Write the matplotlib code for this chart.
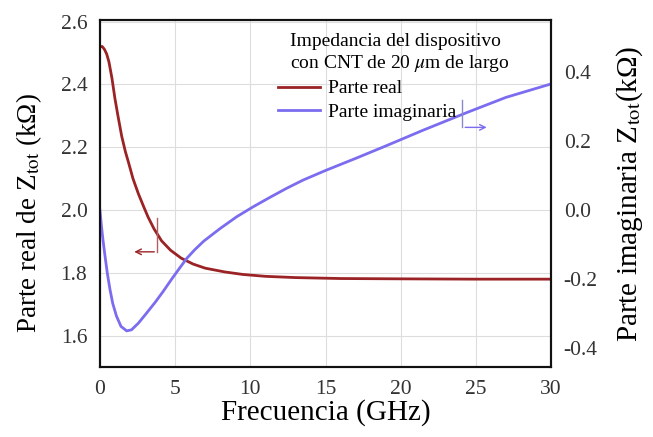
import matplotlib
matplotlib.use("Agg")
import matplotlib.pyplot as plt
import numpy as np

plt.rcParams['font.family'] = ['Liberation Serif', 'DejaVu Serif']
plt.rcParams['mathtext.fontset'] = 'stix'

freq_real = [0, 0.15, 0.3, 0.45, 0.6, 0.8, 1.0, 1.2, 1.45, 1.7, 1.9, 2.2, 2.55, 2.9, 3.2, 3.6, 4.1, 4.7,
             5.4, 6.2, 7.0, 8.3, 9.5, 11.0, 13.0, 16.0, 20.0, 25.0, 30.0]
z_real = [2.52, 2.521, 2.512, 2.497, 2.472, 2.42, 2.355, 2.30, 2.235, 2.185, 2.152, 2.10, 2.053, 2.012, 1.978,
          1.94, 1.902, 1.872, 1.847, 1.828, 1.815, 1.803, 1.795, 1.789, 1.785, 1.782, 1.781, 1.78, 1.78]

freq_imag = [0, 0.1, 0.2, 0.33, 0.5, 0.67, 0.85, 1.1, 1.4, 1.78, 2.1, 2.55, 3.0, 3.66, 4.2, 4.77, 5.3,
             5.77, 6.3, 6.9, 8.0, 9.1, 10.2, 11.3, 12.4, 13.5, 15.0, 17.0, 19.0, 21.5, 24.4, 27.0, 30.0]
z_imag = [0.0, -0.045, -0.085, -0.13, -0.185, -0.23, -0.27, -0.307, -0.337, -0.35, -0.347, -0.328, -0.304,
          -0.268, -0.236, -0.2, -0.168, -0.14, -0.115, -0.09, -0.053, -0.019, 0.01, 0.037, 0.063, 0.087,
          0.115, 0.15, 0.186, 0.232, 0.283, 0.327, 0.366]

xticks = [0, 5, 10, 15, 20, 25, 30]
yticks_left = [1.6, 1.8, 2.0, 2.2, 2.4, 2.6]
yticks_right = [-0.4, -0.2, 0.0, 0.2, 0.4]

red = '#9b2325'
blue = '#7b6cf0'

fig = plt.figure(figsize=(6.53, 4.37), dpi=100)
ax = fig.add_axes([0.153, 0.160, 0.691, 0.794])
ax2 = ax.twinx()

l1, = ax.plot(freq_real, z_real, color=red, lw=2, label='Parte real')
l2, = ax2.plot(freq_imag, z_imag, color=blue, lw=2, label='Parte imaginaria')

ax.set_xlim(0, 30)
ax.set_ylim(1.5, 2.605)
ax2.set_ylim(-0.455, 0.551)
ax.set_xticks(xticks)
ax.set_yticks(yticks_left)
ax.set_yticklabels([f'{v:.1f}' for v in yticks_left])
ax2.set_yticks(yticks_right)
ax2.set_yticklabels([f'{v:.1f}' for v in yticks_right])
ax.grid(True, color='#dddddd', lw=0.8)
ax.set_axisbelow(True)

for a in (ax, ax2):
    a.tick_params(length=0, labelsize=15.5, colors='#333333', pad=9)
    for s in a.spines.values():
        s.set_linewidth(1.5)
        s.set_color('#111111')

ax.set_xlabel('Frecuencia (GHz)', fontsize=21, labelpad=0)
ax.set_ylabel('Parte real de Z$_{\\rm tot}$ (k\u03a9)', fontsize=19.5)
ax.yaxis.set_label_coords(-0.125, 0.445)
ax2.set_ylabel('Parte imaginaria Z$_{\\rm tot}$(k\u03a9)', fontsize=21, labelpad=12)

ax2.text(0.421, 0.963, 'Impedancia del dispositivo\ncon CNT de 20 $\\mu$m de largo',
         transform=ax2.transAxes, ha='left', va='top', multialignment='left',
         fontsize=14, linespacing=1.2)
leg = ax2.legend(handles=[l1, l2], loc='upper left', bbox_to_anchor=(0.395, 0.828),
                 frameon=False, fontsize=14, handlelength=2.15, borderaxespad=0, borderpad=0,
                 labelspacing=0.3, handletextpad=0.4)

# arrows
ax.annotate('', xy=(2.1, 1.867), xytext=(3.8, 1.867), xycoords='data',
            arrowprops=dict(arrowstyle='->', color=red, lw=1.0))
ax.plot([3.8, 3.8], [1.867, 1.975], color='#b06060', lw=1.0)
ax2.annotate('', xy=(25.9, 0.24), xytext=(24.1, 0.24),
             arrowprops=dict(arrowstyle='->', color=blue, lw=1.0))
ax2.plot([24.1, 24.1], [0.24, 0.32], color='#8a88c8', lw=1.0)

fig.savefig('out.png', dpi=100)
